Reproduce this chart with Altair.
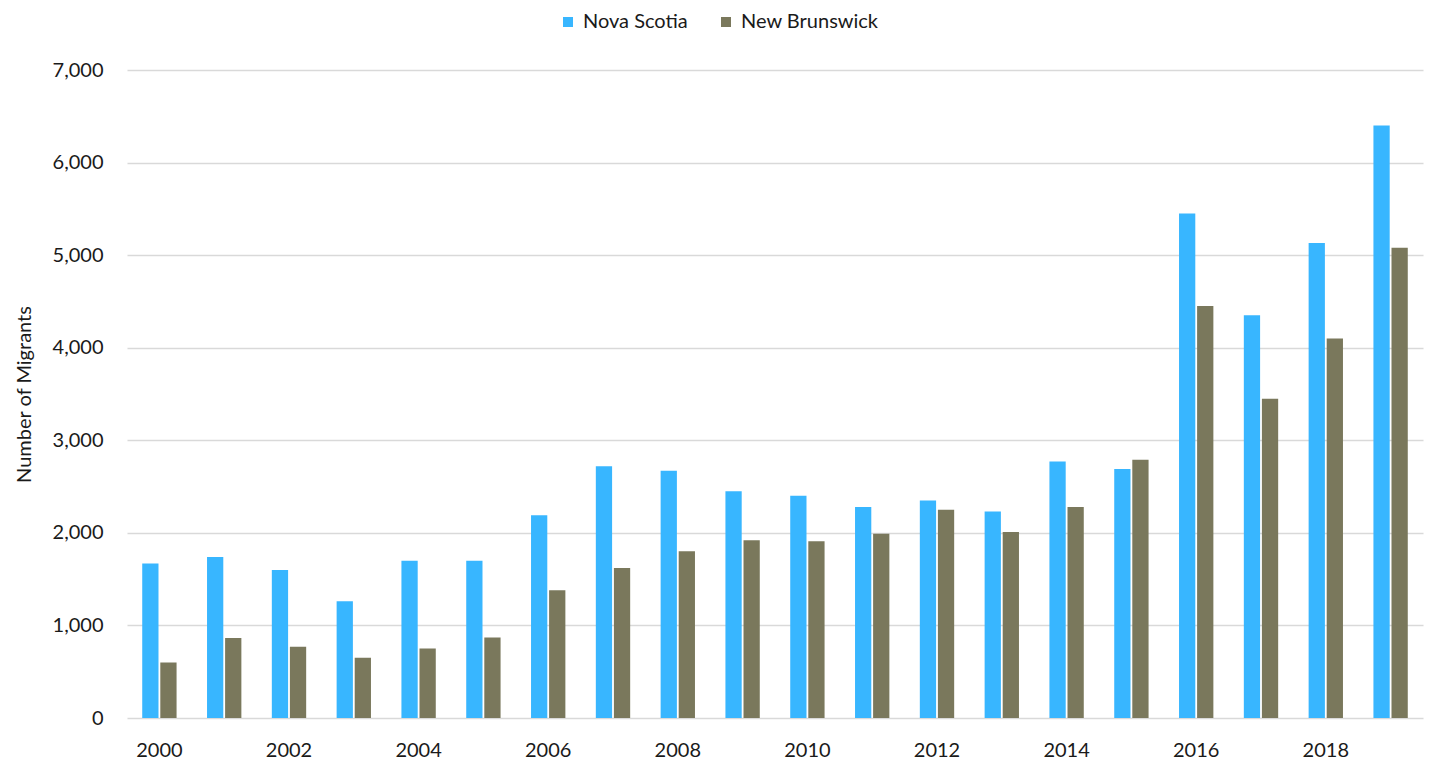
import altair as alt
import pandas as pd

years = [str(y) for y in range(2000, 2020)]
nova_scotia = [1670, 1740, 1600, 1260, 1700, 1700, 2190, 2720, 2670, 2450,
               2400, 2280, 2350, 2230, 2770, 2690, 5450, 4350, 5130, 6400]
new_brunswick = [600, 865, 770, 650, 750, 870, 1380, 1620, 1800, 1920,
                 1910, 1990, 2250, 2010, 2280, 2790, 4450, 3450, 4100, 5080]
series = ["Nova Scotia", "New Brunswick"]
colors = ["#38B6FF", "#7A785C"]
tick_years = [str(y) for y in range(2000, 2020, 2)]

rows = []
for i, y in enumerate(years):
    rows.append({"Year": y, "Province": series[0], "Migrants": nova_scotia[i]})
    rows.append({"Year": y, "Province": series[1], "Migrants": new_brunswick[i]})
df = pd.DataFrame(rows)

FONT = "Lato"
TXT = "#1a1a1a"

chart = alt.Chart(df).mark_bar().encode(
    x=alt.X("Year:N", sort=years,
            scale=alt.Scale(paddingInner=0.47, paddingOuter=0.235),
            axis=alt.Axis(title=None, values=tick_years, labelAngle=0,
                          ticks=False, domain=False, labelPadding=22,
                          labelFontSize=20, labelColor=TXT, labelFont=FONT)),
    xOffset=alt.XOffset("Province:N", sort=series,
                        scale=alt.Scale(paddingInner=0.1)),
    y=alt.Y("Migrants:Q",
            scale=alt.Scale(domain=[0, 7000]),
            axis=alt.Axis(title="Number of Migrants", values=list(range(0, 7001, 1000)),
                          format=",.0f", ticks=False, domain=False, labelPadding=24,
                          labelFontSize=20, labelColor=TXT, labelFont=FONT,
                          titleFontSize=20, titleFontWeight="normal", titleColor=TXT,
                          titleFont=FONT, titlePadding=18,
                          gridColor="#D9D9D9", gridWidth=1.5)),
    color=alt.Color("Province:N", sort=series,
                    scale=alt.Scale(domain=series, range=colors),
                    legend=alt.Legend(title=None, orient="none", direction="horizontal",
                                      legendX=431, legendY=-58,
                                      symbolType="square", symbolSize=100,
                                      symbolStrokeWidth=0, columnPadding=28,
                                      labelFontSize=20, labelColor=TXT,
                                      labelFont=FONT, labelOffset=5)),
).properties(
    width=1296,
    height=648,
    autosize=alt.AutoSizeParams(type="none"),
    padding={"left": 127, "top": 70, "right": 8, "bottom": 45},
    background="white",
).configure_view(
    stroke=None
)

chart.save("out.html", embed_options={"renderer": "svg", "actions": False})
